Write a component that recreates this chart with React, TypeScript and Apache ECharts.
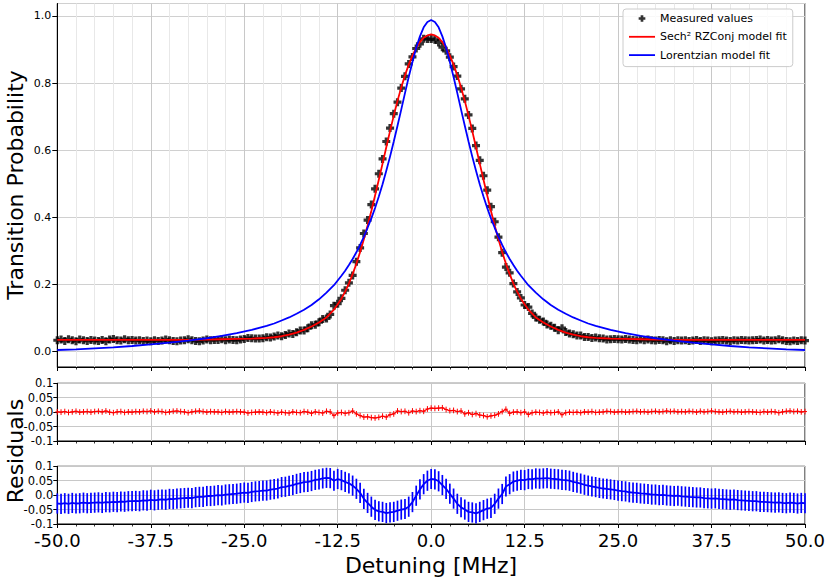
import React, { useEffect, useRef } from "react";
import * as echarts from "echarts";

// Detuning grid of the measurement [MHz]
const DETUNING = [
  -50, -49.5, -49, -48.5, -48, -47.5, -47, -46.5, -46, -45.5,
  -45, -44.5, -44, -43.5, -43, -42.5, -42, -41.5, -41, -40.5,
  -40, -39.5, -39, -38.5, -38, -37.5, -37, -36.5, -36, -35.5,
  -35, -34.5, -34, -33.5, -33, -32.5, -32, -31.5, -31, -30.5,
  -30, -29.5, -29, -28.5, -28, -27.5, -27, -26.5, -26, -25.5,
  -25, -24.5, -24, -23.5, -23, -22.5, -22, -21.5, -21, -20.5,
  -20, -19.5, -19, -18.5, -18, -17.5, -17, -16.5, -16, -15.5,
  -15, -14.5, -14, -13.5, -13, -12.5, -12, -11.5, -11, -10.5,
  -10, -9.5, -9, -8.5, -8, -7.5, -7, -6.5, -6, -5.5,
  -5, -4.5, -4, -3.5, -3, -2.5, -2, -1.5, -1, -0.5,
  0, 0.5, 1, 1.5, 2, 2.5, 3, 3.5, 4, 4.5,
  5, 5.5, 6, 6.5, 7, 7.5, 8, 8.5, 9, 9.5,
  10, 10.5, 11, 11.5, 12, 12.5, 13, 13.5, 14, 14.5,
  15, 15.5, 16, 16.5, 17, 17.5, 18, 18.5, 19, 19.5,
  20, 20.5, 21, 21.5, 22, 22.5, 23, 23.5, 24, 24.5,
  25, 25.5, 26, 26.5, 27, 27.5, 28, 28.5, 29, 29.5,
  30, 30.5, 31, 31.5, 32, 32.5, 33, 33.5, 34, 34.5,
  35, 35.5, 36, 36.5, 37, 37.5, 38, 38.5, 39, 39.5,
  40, 40.5, 41, 41.5, 42, 42.5, 43, 43.5, 44, 44.5,
  45, 45.5, 46, 46.5, 47, 47.5, 48, 48.5, 49, 49.5,
  50,
];

// Measured transition probability
const MEASURED = [
  0.034, 0.036, 0.032, 0.037, 0.034, 0.031, 0.036, 0.034, 0.032, 0.035,
  0.033, 0.032, 0.035, 0.031, 0.036, 0.038, 0.034, 0.033, 0.037, 0.034,
  0.035, 0.033, 0.034, 0.032, 0.033, 0.031, 0.034, 0.032, 0.033, 0.036,
  0.034, 0.032, 0.031, 0.033, 0.034, 0.037, 0.034, 0.032, 0.031, 0.033,
  0.036, 0.034, 0.035, 0.035, 0.037, 0.034, 0.036, 0.035, 0.034, 0.036,
  0.038, 0.041, 0.040, 0.039, 0.039, 0.040, 0.043, 0.042, 0.045, 0.048,
  0.046, 0.050, 0.054, 0.053, 0.058, 0.063, 0.063, 0.070, 0.079, 0.080,
  0.088, 0.097, 0.099, 0.111, 0.137, 0.143, 0.159, 0.183, 0.205, 0.227,
  0.268, 0.309, 0.352, 0.392, 0.438, 0.485, 0.530, 0.574, 0.626, 0.666,
  0.709, 0.743, 0.785, 0.820, 0.857, 0.878, 0.903, 0.917, 0.932, 0.931,
  0.931, 0.929, 0.921, 0.907, 0.896, 0.877, 0.849, 0.821, 0.783, 0.753,
  0.705, 0.665, 0.614, 0.570, 0.524, 0.481, 0.432, 0.387, 0.341, 0.295,
  0.252, 0.235, 0.203, 0.178, 0.160, 0.139, 0.133, 0.114, 0.102, 0.095,
  0.090, 0.081, 0.077, 0.071, 0.064, 0.070, 0.059, 0.054, 0.052, 0.048,
  0.048, 0.044, 0.044, 0.041, 0.042, 0.040, 0.039, 0.036, 0.037, 0.038,
  0.037, 0.036, 0.038, 0.036, 0.035, 0.034, 0.036, 0.034, 0.036, 0.034,
  0.033, 0.035, 0.034, 0.031, 0.034, 0.032, 0.034, 0.033, 0.034, 0.032,
  0.033, 0.035, 0.032, 0.034, 0.033, 0.031, 0.033, 0.034, 0.035, 0.033,
  0.032, 0.034, 0.033, 0.035, 0.034, 0.033, 0.034, 0.035, 0.036, 0.033,
  0.035, 0.033, 0.034, 0.037, 0.034, 0.032, 0.031, 0.033, 0.032, 0.034,
  0.033,
];

// Residuals of the Sech^2 RZConj fit
const RESID_SECH = [
  0.001, 0.000, 0.002, -0.001, 0.001, 0.003, 0.000, 0.001, 0.002, 0.000,
  0.002, 0.003, 0.001, 0.004, 0.000, -0.002, 0.001, 0.002, -0.001, 0.001,
  0.000, 0.002, 0.001, 0.003, 0.002, 0.004, 0.001, 0.003, 0.002, -0.001,
  0.001, 0.003, 0.004, 0.002, 0.001, -0.002, 0.001, 0.003, 0.004, 0.002,
  0.000, 0.002, 0.001, 0.001, -0.001, 0.002, 0.000, 0.001, 0.002, 0.001,
  0.000, -0.003, -0.001, 0.000, 0.001, 0.000, -0.002, 0.001, -0.001, -0.003,
  0.000, -0.002, -0.003, 0.001, -0.001, -0.002, 0.002, 0.000, -0.004, 0.001,
  -0.001, -0.003, 0.003, 0.001, -0.012, -0.003, -0.001, -0.004, -0.002, 0.004,
  -0.006, -0.012, -0.017, -0.016, -0.019, -0.020, -0.018, -0.014, -0.017, -0.009,
  -0.006, 0.004, 0.002, 0.003, -0.002, 0.004, 0.002, 0.005, 0.003, 0.011,
  0.014, 0.013, 0.014, 0.015, 0.009, 0.005, 0.006, 0.002, 0.004, -0.006,
  -0.002, -0.008, -0.005, -0.010, -0.012, -0.016, -0.013, -0.011, -0.006, 0.002,
  0.010, -0.004, 0.000, 0.001, -0.002, 0.001, -0.008, -0.002, 0.000, -0.001,
  -0.003, 0.000, -0.002, -0.001, 0.001, -0.009, -0.002, 0.000, -0.001, 0.000,
  -0.002, 0.001, 0.000, 0.002, -0.001, 0.000, 0.001, 0.003, 0.002, 0.000,
  0.001, 0.002, 0.000, 0.001, 0.002, 0.003, 0.001, 0.002, 0.000, 0.002,
  0.003, 0.001, 0.002, 0.004, 0.002, 0.003, 0.001, 0.002, 0.001, 0.003,
  0.002, 0.000, 0.003, 0.001, 0.002, 0.004, 0.002, 0.001, 0.000, 0.002,
  0.003, 0.001, 0.002, 0.000, 0.001, 0.002, 0.001, 0.000, -0.001, 0.002,
  0.000, 0.002, 0.001, -0.002, 0.001, 0.003, 0.004, 0.002, 0.003, 0.001,
  0.002,
];

// Residuals of the Lorentzian fit
const RESID_LOR = [
  -0.029, -0.030, -0.028, -0.030, -0.027, -0.029, -0.028, -0.026, -0.028, -0.027,
  -0.026, -0.025, -0.027, -0.024, -0.025, -0.023, -0.024, -0.022, -0.023, -0.021,
  -0.021, -0.020, -0.021, -0.018, -0.019, -0.016, -0.018, -0.016, -0.015, -0.016,
  -0.013, -0.014, -0.012, -0.011, -0.010, -0.009, -0.010, -0.007, -0.006, -0.006,
  -0.003, -0.003, -0.002, 0.000, -0.001, 0.002, 0.003, 0.004, 0.005, 0.007,
  0.009, 0.008, 0.011, 0.013, 0.014, 0.016, 0.016, 0.019, 0.021, 0.023,
  0.028, 0.029, 0.032, 0.035, 0.039, 0.042, 0.045, 0.046, 0.049, 0.053,
  0.055, 0.058, 0.060, 0.059, 0.050, 0.056, 0.052, 0.046, 0.041, 0.033,
  0.022, 0.008, -0.013, -0.027, -0.040, -0.051, -0.056, -0.058, -0.062, -0.060,
  -0.058, -0.054, -0.050, -0.048, -0.040, -0.024, -0.002, 0.020, 0.038, 0.050,
  0.056, 0.055, 0.048, 0.035, 0.022, 0.005, -0.012, -0.030, -0.042, -0.050,
  -0.058, -0.060, -0.063, -0.058, -0.052, -0.047, -0.044, -0.030, -0.012, 0.004,
  0.030, 0.038, 0.047, 0.050, 0.053, 0.052, 0.056, 0.055, 0.058, 0.057,
  0.058, 0.059, 0.057, 0.056, 0.055, 0.053, 0.052, 0.050, 0.046, 0.043,
  0.040, 0.036, 0.033, 0.030, 0.028, 0.025, 0.023, 0.022, 0.020, 0.018,
  0.016, 0.014, 0.013, 0.010, 0.009, 0.008, 0.006, 0.005, 0.004, 0.002,
  0.002, 0.000, 0.001, -0.001, -0.002, -0.003, -0.002, -0.004, -0.005, -0.006,
  -0.007, -0.008, -0.008, -0.010, -0.011, -0.012, -0.011, -0.013, -0.014, -0.015,
  -0.016, -0.015, -0.017, -0.018, -0.019, -0.020, -0.021, -0.021, -0.023, -0.023,
  -0.024, -0.025, -0.026, -0.025, -0.027, -0.028, -0.026, -0.027, -0.029, -0.027,
  -0.028,
];

const RESID_SECH_ERR = 0.01;
const RESID_LOR_ERR = 0.035;

// Model curves, read at these detunings
const FIT_X = [
  -50, -47.5, -45, -42.5, -40, -37.5, -35, -32.5, -30, -28, -26, -24, -23, -22, -21, -20,
  -19, -18, -17, -16, -15, -14, -13, -12, -11.5, -11, -10.5, -10, -9.5, -9, -8.5, -8,
  -7.5, -7, -6.5, -6, -5.5, -5, -4.5, -4, -3.5, -3, -2.5, -2, -1.5, -1, -0.5,
  0,
  0.5, 1, 1.5, 2, 2.5, 3, 3.5, 4, 4.5, 5, 5.5, 6, 6.5, 7, 7.5,
  8, 8.5, 9, 9.5, 10, 10.5, 11, 11.5, 12, 13, 14, 15, 16, 17, 18, 19,
  20, 21, 22, 23, 24, 26, 28, 30, 32.5, 35, 37.5, 40, 42.5, 45, 47.5, 50,
];
const SECH_FIT = [
  0.035, 0.035, 0.035, 0.035, 0.035, 0.035, 0.035, 0.035, 0.036, 0.037, 0.038, 0.039, 0.040, 0.041, 0.043, 0.046,
  0.051, 0.057, 0.065, 0.075, 0.087, 0.102, 0.125, 0.158, 0.179, 0.203, 0.231, 0.262, 0.297, 0.335, 0.376, 0.419,
  0.465, 0.512, 0.560, 0.609, 0.657, 0.703, 0.747, 0.787, 0.823, 0.855, 0.882, 0.905, 0.922, 0.935, 0.942,
  0.945,
  0.942, 0.935, 0.922, 0.905, 0.882, 0.855, 0.823, 0.787, 0.747, 0.703, 0.657, 0.609, 0.560, 0.512, 0.465,
  0.419, 0.376, 0.335, 0.297, 0.262, 0.231, 0.203, 0.179, 0.158, 0.125, 0.102, 0.087, 0.075, 0.065, 0.057, 0.051,
  0.046, 0.043, 0.041, 0.040, 0.039, 0.038, 0.037, 0.036, 0.035, 0.035, 0.035, 0.035, 0.035, 0.035, 0.035, 0.035,
];
const LOR_FIT = [
  0.005, 0.007, 0.010, 0.013, 0.017, 0.022, 0.027, 0.033, 0.040, 0.047, 0.055, 0.065, 0.071, 0.077, 0.084, 0.093,
  0.102, 0.113, 0.125, 0.139, 0.156, 0.176, 0.198, 0.226, 0.241, 0.258, 0.276, 0.296, 0.318, 0.342, 0.369, 0.397,
  0.428, 0.462, 0.499, 0.539, 0.581, 0.626, 0.673, 0.721, 0.770, 0.818, 0.863, 0.905, 0.939, 0.966, 0.982,
  0.988,
  0.982, 0.966, 0.939, 0.905, 0.863, 0.818, 0.770, 0.721, 0.673, 0.626, 0.581, 0.539, 0.499, 0.462, 0.428,
  0.397, 0.369, 0.342, 0.318, 0.296, 0.276, 0.258, 0.241, 0.226, 0.198, 0.176, 0.156, 0.139, 0.125, 0.113, 0.102,
  0.093, 0.084, 0.077, 0.071, 0.065, 0.055, 0.047, 0.040, 0.033, 0.027, 0.022, 0.017, 0.013, 0.010, 0.007, 0.005,
];

const X_TICKS_STEP = 12.5;

const FONT = "DejaVu Sans";
const PLUS = "path://M3,0H7V3H10V7H7V10H3V7H0V3H3Z";
const PLUS_LEGEND =
  "path://M-3.2,-3.2h0.01v0.01h-0.01Z M13.2,13.2h0.01v0.01h-0.01Z M3,0H7V3H10V7H7V10H3V7H0V3H3Z";
const LINE_LEGEND = "path://M0,0H26V1.8H0Z";

const NAME_MEAS = "Measured values";
const NAME_SECH = "Sech\u00B2 RZConj model fit";
const NAME_LOR = "Lorentzian model fit";

function errRender(color: string, lw: number, arm: number) {
  return (params: any, api: any) => {
    const x = api.value(0);
    const y = api.value(1);
    const e = api.value(2);
    const a = api.coord([x, y - e]);
    const b = api.coord([x, y + e]);
    const c = api.coord([x, y]);
    const children: any[] = [
      { type: "line", shape: { x1: a[0], y1: a[1], x2: b[0], y2: b[1] }, style: { stroke: color, lineWidth: lw } },
    ];
    if (arm > 0) {
      children.push({ type: "line", shape: { x1: c[0] - arm, y1: c[1], x2: c[0] + arm, y2: c[1] }, style: { stroke: color, lineWidth: 1 } });
    }
    return { type: "group", children };
  };
}

const GRID_LEFT = 57.3;
const GRID_WIDTH = 747.7;

function xAxisCfg(gridIndex: number, showLabels: boolean, minorGrid: boolean) {
  return {
    type: "value",
    gridIndex,
    min: -50,
    max: 50,
    interval: X_TICKS_STEP,
    axisLine: { show: true, onZero: false, lineStyle: { color: "#000", width: 1 } },
    axisTick: { show: true, length: 4, lineStyle: { color: "#000", width: 1 } },
    minorTick: { show: true, splitNumber: 5, length: 2.5, lineStyle: { color: "#000", width: 0.8 } },
    splitLine: { show: true, lineStyle: { color: "#c8c8c8", width: 1 } },
    minorSplitLine: { show: minorGrid, lineStyle: { color: "#e8e8e8", width: 1 } },
    axisLabel: {
      show: showLabels,
      fontFamily: FONT,
      fontSize: 18,
      color: "#000",
      margin: 7,
      formatter: (v: number) => v.toFixed(1),
    },
  };
}

function residYAxis(gridIndex: number) {
  return {
    type: "value",
    gridIndex,
    min: -0.1,
    max: 0.1,
    interval: 0.05,
    axisLine: { show: true, onZero: false, lineStyle: { color: "#000", width: 1 } },
    axisTick: { show: true, length: 4, lineStyle: { color: "#000" } },
    splitLine: { show: true, lineStyle: { color: "#c8c8c8", width: 1 } },
    axisLabel: {
      fontFamily: FONT,
      fontSize: 11.5,
      color: "#000",
      margin: 4,
      formatter: (v: number) => (Math.abs(v) < 1e-9 ? "0.0" : String(+v.toFixed(2))),
    },
  };
}

export default function App() {
  const ref = useRef<HTMLDivElement>(null);
  useEffect(() => {
    if (!ref.current) return;
    const chart = echarts.init(ref.current, undefined, { renderer: "svg" });
    const option: any = {
      animation: false,
      backgroundColor: "#fff",
      textStyle: { fontFamily: FONT },
      grid: [
        { left: GRID_LEFT, top: 3.5, width: GRID_WIDTH, height: 363.5, show: true, borderColor: "#000", borderWidth: 1, containLabel: false, outerBoundsMode: "none" },
        { left: GRID_LEFT, top: 383.3, width: GRID_WIDTH, height: 57.7, show: true, borderColor: "#000", borderWidth: 1, containLabel: false, outerBoundsMode: "none" },
        { left: GRID_LEFT, top: 466.3, width: GRID_WIDTH, height: 57.7, show: true, borderColor: "#000", borderWidth: 1, containLabel: false, outerBoundsMode: "none" },
      ],
      xAxis: [xAxisCfg(0, false, true), xAxisCfg(1, false, false), xAxisCfg(2, true, false)],
      yAxis: [
        {
          type: "value",
          gridIndex: 0,
          min: -0.0456,
          max: 1.037,
          splitNumber: 5,
          axisLine: { show: true, onZero: false, lineStyle: { color: "#000", width: 1 } },
          axisTick: { show: true, length: 5, lineStyle: { color: "#000" } },
          splitLine: { show: true, lineStyle: { color: "#d0d0d0", width: 1 } },
          axisLabel: {
            fontFamily: FONT,
            fontSize: 11,
            color: "#000",
            margin: 6,
            showMinLabel: false,
            showMaxLabel: false,
            formatter: (v: number) => v.toFixed(1),
          },
        },
        residYAxis(1),
        residYAxis(2),
      ],
      legend: {
        left: 623,
        top: 9,
        orient: "vertical",
        itemWidth: 26,
        itemHeight: 11,
        itemGap: 7.3,
        padding: [4, 6, 6, 6],
        backgroundColor: "rgba(255,255,255,0.85)",
        borderColor: "#cccccc",
        borderWidth: 1,
        borderRadius: 3,
        selectedMode: false,
        textStyle: { fontFamily: FONT, fontSize: 11, color: "#000" },
        data: [
          { name: NAME_MEAS, icon: PLUS_LEGEND },
          { name: NAME_SECH, icon: LINE_LEGEND },
          { name: NAME_LOR, icon: LINE_LEGEND },
        ],
      },
      graphic: [
        {
          type: "text",
          x: 15,
          y: 185,
          rotation: Math.PI / 2,
          style: { text: "Transition Probability", fontFamily: FONT, fontSize: 22, fill: "#000", textAlign: "center", textVerticalAlign: "middle" },
        },
        {
          type: "text",
          x: 15,
          y: 451,
          rotation: Math.PI / 2,
          style: { text: "Residuals", fontFamily: FONT, fontSize: 22, fill: "#000", textAlign: "center", textVerticalAlign: "middle" },
        },
        {
          type: "text",
          x: 431,
          y: 565,
          style: { text: "Detuning [MHz]", fontFamily: FONT, fontSize: 22, fill: "#000", textAlign: "center", textVerticalAlign: "middle" },
        },
      ],
      series: [
        {
          name: NAME_MEAS,
          type: "scatter",
          xAxisIndex: 0,
          yAxisIndex: 0,
          symbol: PLUS,
          symbolSize: 8,
          itemStyle: { color: "#000" },
          data: DETUNING.map((x, i) => [x, MEASURED[i]]),
          z: 3,
        },
        {
          name: NAME_SECH,
          type: "line",
          xAxisIndex: 0,
          yAxisIndex: 0,
          symbol: "none",
          lineStyle: { color: "#ff0000", width: 1.8 },
          itemStyle: { color: "#ff0000" },
          data: FIT_X.map((x, i) => [x, SECH_FIT[i]]),
          z: 4,
        },
        {
          name: NAME_LOR,
          type: "line",
          xAxisIndex: 0,
          yAxisIndex: 0,
          symbol: "none",
          lineStyle: { color: "#0000ff", width: 1.8 },
          itemStyle: { color: "#0000ff" },
          data: FIT_X.map((x, i) => [x, LOR_FIT[i]]),
          z: 5,
        },
        {
          name: "sechResidLine",
          type: "line",
          xAxisIndex: 1,
          yAxisIndex: 1,
          symbol: "none",
          lineStyle: { color: "#ff0000", width: 1.1 },
          data: DETUNING.map((x, i) => [x, RESID_SECH[i]]),
          z: 3,
        },
        {
          name: "sechResidErr",
          type: "custom",
          xAxisIndex: 1,
          yAxisIndex: 1,
          renderItem: errRender("#ff0000", 1, 2),
          encode: { x: 0, y: 1 },
          data: DETUNING.map((x, i) => [x, RESID_SECH[i], RESID_SECH_ERR]),
          z: 4,
        },
        {
          name: "lorResidLine",
          type: "line",
          xAxisIndex: 2,
          yAxisIndex: 2,
          symbol: "none",
          lineStyle: { color: "#0000ff", width: 1.8 },
          data: DETUNING.map((x, i) => [x, RESID_LOR[i]]),
          z: 3,
        },
        {
          name: "lorResidErr",
          type: "custom",
          xAxisIndex: 2,
          yAxisIndex: 2,
          renderItem: errRender("#0000ff", 1.7, 0),
          encode: { x: 0, y: 1 },
          data: DETUNING.map((x, i) => [x, RESID_LOR[i], RESID_LOR_ERR]),
          z: 4,
        },
      ],
    };
    chart.setOption(option);
    return () => chart.dispose();
  }, []);
  return <div ref={ref} style={{ position: "absolute", left: 0, top: 0, width: 830, height: 581 }} />;
}
